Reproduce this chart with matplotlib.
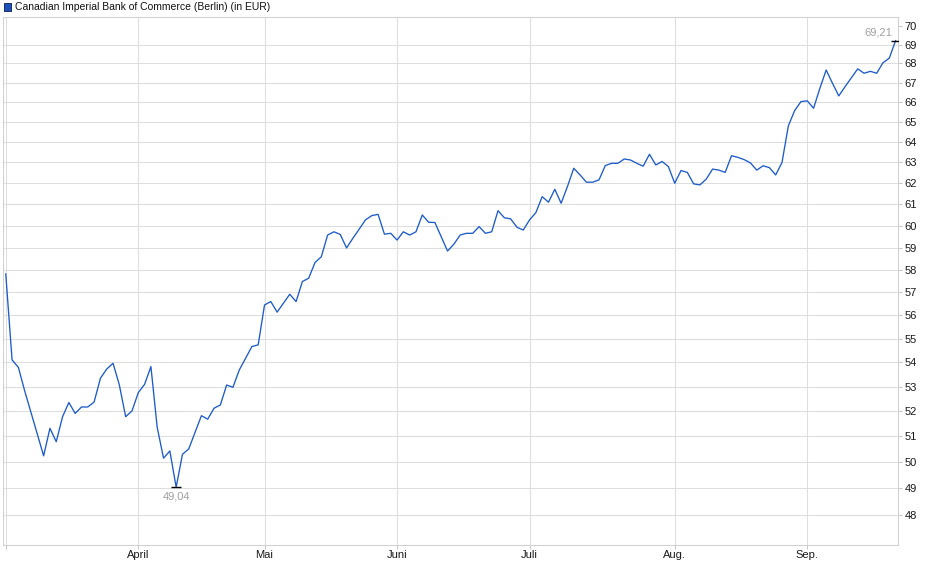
import matplotlib
matplotlib.use("Agg")
import matplotlib.pyplot as plt
from matplotlib.patches import Rectangle
import numpy as np

plt.rcParams['font.family'] = ['Liberation Sans', 'DejaVu Sans']

title = "Canadian Imperial Bank of Commerce (Berlin) (in EUR)"

prices = [
    57.81, 54.10, 53.79, 52.82, 51.94, 51.09, 50.24, 51.32, 50.79, 51.78,
    52.35, 51.91, 52.17, 52.17, 52.37, 53.34, 53.72, 53.96, 53.06, 51.78,
    52.01, 52.75, 53.09, 53.82, 51.35, 50.15, 50.43, 49.04, 50.30, 50.51,
    51.16, 51.82, 51.68, 52.12, 52.25, 53.06, 52.97, 53.68, 54.17, 54.66,
    54.73, 56.44, 56.59, 56.13, 56.52, 56.91, 56.59, 57.47, 57.62, 58.32,
    58.58, 59.57, 59.72, 59.60, 58.98, 59.42, 59.84, 60.27, 60.47, 60.53,
    59.61, 59.65, 59.34, 59.72, 59.57, 59.72, 60.50, 60.16, 60.15, 59.49,
    58.84, 59.15, 59.57, 59.65, 59.65, 59.96, 59.65, 59.72, 60.70, 60.37,
    60.32, 59.93, 59.80, 60.27, 60.61, 61.36, 61.10, 61.71, 61.05, 61.84,
    62.72, 62.40, 62.05, 62.05, 62.16, 62.85, 62.96, 62.96, 63.17, 63.12,
    62.96, 62.82, 63.40, 62.88, 63.05, 62.80, 62.00, 62.61, 62.52, 61.97,
    61.92, 62.20, 62.68, 62.63, 62.52, 63.33, 63.25, 63.14, 62.98, 62.63,
    62.84, 62.75, 62.40, 63.00, 64.80, 65.57, 66.03, 66.07, 65.69, 66.71,
    67.66, 66.97, 66.32, 66.80, 67.26, 67.72, 67.49, 67.59, 67.49, 68.04,
    68.28, 69.21,
]

month_pos = [0, 21, 41, 62, 83, 106, 127]
month_labels = ["", "April", "Mai", "Juni", "Juli", "Aug.", "Sep."]
y_ticks = list(range(48, 71))
y_grid = list(range(48, 70))

W, H = 940, 579
fig = plt.figure(figsize=(W / 100, H / 100), dpi=100)
ax = fig.add_axes([3.3 / W, 1 - 545 / H, (898 - 3.3) / W, (545 - 16.7) / H])

x = np.arange(len(prices))
ax.set_yscale('log')
ax.set_ylim(46.9, 70.5)
ax.set_xlim(-0.39, 141.38)

grid_c = '#dedede'
for v in y_grid:
    ax.axhline(v, color=grid_c, lw=0.75, zorder=1)
for p in month_pos:
    ax.axvline(p, color=grid_c, lw=0.75, zorder=1)

ax.plot(x, prices, color='#1c5bc9', lw=0.95, zorder=3)

# min / max markers
imin = int(np.argmin(prices))
imax = int(np.argmax(prices))
ax.plot([imin], [prices[imin]], marker='_', ms=6.8, mew=1.0, color='black', zorder=4)
ax.plot([imax], [prices[imax]], marker='_', ms=6.8, mew=1.0, color='black', zorder=4)
fmt = lambda v: f"{v:.2f}".replace('.', ',')
ax.annotate(fmt(prices[imin]), (imin, prices[imin]), xytext=(0, -6.9),
            textcoords='offset points', ha='center', va='center',
            fontsize=8, color='#a0a0a0', zorder=5)
ax.annotate(fmt(prices[imax]), (imax, prices[imax]), xytext=(-2.2, 5.9),
            textcoords='offset points', ha='right', va='center',
            fontsize=8, color='#a0a0a0', zorder=5,
            bbox=dict(boxstyle='square,pad=0.1', fc='white', ec='none'))

ax.yaxis.tick_right()
ax.set_yticks(y_ticks)
ax.set_yticklabels([str(v) for v in y_ticks])
ax.yaxis.set_minor_locator(matplotlib.ticker.NullLocator())
ax.set_xticks(month_pos)
ax.set_xticklabels(month_labels)
ax.tick_params(axis='both', labelsize=8, colors='#c8c8c8', labelcolor='#1a1a1a',
               length=3, width=0.75, pad=1.5)
ax.tick_params(axis='x', pad=0.5)

for s in ax.spines.values():
    s.set_color('#d0d0d0')
    s.set_linewidth(0.75)

# legend
fig.patches.append(Rectangle((4 / W, 1 - 10.5 / H), 7 / W, 7.5 / H,
                             transform=fig.transFigure, fc='#1f4fb8',
                             ec='#1a2f6a', lw=0.7))
fig.text(15 / W, 1 - 6.5 / H, title, fontsize=7.5, color='#111111',
         ha='left', va='center')

fig.savefig('out.png', dpi=100)
